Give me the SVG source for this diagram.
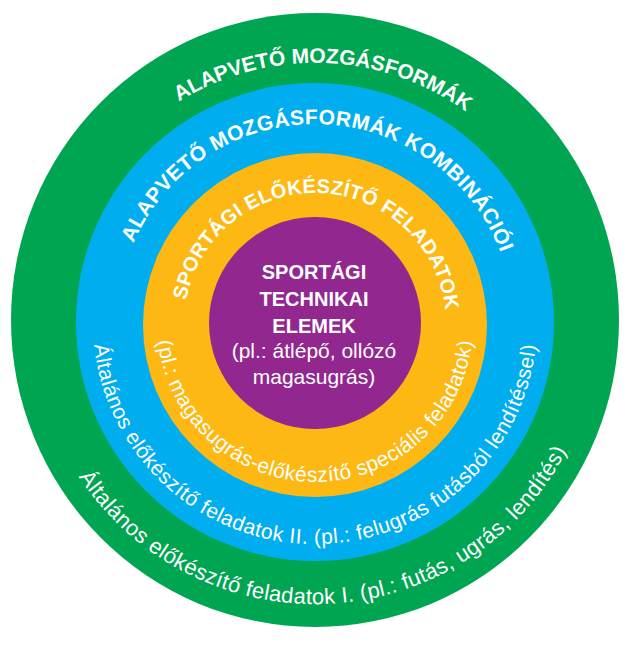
<svg xmlns="http://www.w3.org/2000/svg" xmlns:xlink="http://www.w3.org/1999/xlink" width="635" height="647" viewBox="0 0 635 647">
  <style>
    .b { font-family: "Liberation Sans", Arial, sans-serif; font-weight: bold; fill: #ffffff; }
    .r { font-family: "Liberation Sans", Arial, sans-serif; font-weight: normal; fill: #ffffff; }
  </style>
  <defs>
    <path id="p1" d="M 72.6 409.2 A 258 258 0 1 1 557.4 409.2"/>
    <path id="p2" d="M 128.9 389.7 A 198 198 0 1 1 501.1 389.7"/>
    <path id="p3" d="M 191.9 368.8 A 131 131 0 1 1 438.1 368.8"/>
    <path id="p5" d="M 166.5 270 A 158 158 0 1 0 463.5 270"/>
    <path id="p6" d="M 106.4 246.1 A 222 222 0 1 0 523.6 246.1"/>
    <path id="p7" d="M 49.1 224.2 A 283 283 0 1 0 580.9 224.2"/>
  </defs>
  <rect width="635" height="647" fill="#ffffff"/>
  <g id="ring-alapveto">
    <ellipse cx="315" cy="320" rx="304" ry="307" fill="#00A551"/>
    <text class="b" font-size="21"><textPath href="#p1" xlink:href="#p1" startOffset="50.9%" text-anchor="middle">ALAPVETŐ MOZGÁSFORMÁK</textPath></text>
    <text class="r" font-size="22" letter-spacing="0.3"><textPath href="#p7" xlink:href="#p7" startOffset="51.4%" text-anchor="middle">Általános előkészítő feladatok I. (pl.: futás, ugrás, lendítés)</textPath></text>
  </g>
  <g id="ring-kombinacioi">
    <circle cx="315" cy="322" r="239" fill="#00AEEF"/>
    <text class="b" font-size="21" letter-spacing="0.5"><textPath href="#p2" xlink:href="#p2" startOffset="50.7%" text-anchor="middle">ALAPVETŐ MOZGÁSFORMÁK KOMBINÁCIÓI</textPath></text>
    <text class="r" font-size="21" letter-spacing="0.5"><textPath href="#p6" xlink:href="#p6" startOffset="50%" text-anchor="middle">Általános előkészítő feladatok II. (pl.: felugrás futásból lendítéssel)</textPath></text>
  </g>
  <g id="ring-sportagi-elokeszito">
    <circle cx="315" cy="325" r="172" fill="#FDB813"/>
    <text class="b" font-size="20" letter-spacing="0.3"><textPath href="#p3" xlink:href="#p3" startOffset="51%" text-anchor="middle">SPORTÁGI ELŐKÉSZÍTŐ FELADATOK</textPath></text>
    <text class="r" font-size="21" letter-spacing="0.4"><textPath href="#p5" xlink:href="#p5" startOffset="50%" text-anchor="middle">(pl.: magasugrás-előkészítő speciális feladatok)</textPath></text>
  </g>
  <g id="core-sportagi-technikai">
    <circle cx="315" cy="323" r="106" fill="#92278F"/>
    <text class="b" font-size="20" text-anchor="middle" x="314" y="279">SPORTÁGI</text>
    <text class="b" font-size="20" text-anchor="middle" x="314" y="306">TECHNIKAI</text>
    <text class="b" font-size="20" text-anchor="middle" x="314" y="333">ELEMEK</text>
    <text class="r" font-size="21" text-anchor="middle" x="314" y="358">(pl.: átlépő, ollózó</text>
    <text class="r" font-size="21" text-anchor="middle" x="314" y="384">magasugrás)</text>
  </g>
</svg>
